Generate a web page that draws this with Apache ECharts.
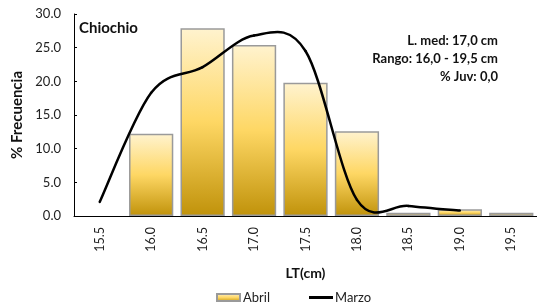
<!DOCTYPE html>
<html>
<head>
<meta charset="utf-8">
<script src="https://cdn.jsdelivr.net/npm/echarts@6/dist/echarts.min.js"></script>
<style>
  html, body { margin: 0; padding: 0; background: #fff; }
  #chart { width: 537px; height: 308px; }
</style>
</head>
<body>
<div id="chart"></div>
<script>
// tallas (LT cm)
var tallas = ['15.5', '16.0', '16.5', '17.0', '17.5', '18.0', '18.5', '19.0', '19.5']
// % frecuencia
var abril = [0, 12.2, 27.9, 25.4, 19.8, 12.6, 0.5, 1.0, 0.5]
var marzo = [2.1, 18.3, 22.1, 26.8, 24.5, 2.4, 1.5, 0.8]

var notas = ['L. med: 17,0 cm', 'Rango: 16,0 - 19,5 cm', '% Juv: 0,0']

var fuente = 'Lato'
var barColor = new echarts.graphic.LinearGradient(0, 0, 0, 1, [
  {offset: 0, color: '#fff3cf'},
  {offset: 0.5, color: '#fed764'},
  {offset: 1, color: '#c0920a'}
])

// linea suavizada tipo excel (catmull-rom), puntos sacados de los ejes
function curvaMarzo (params, api) {
  var pts = marzo.map(function (v, i) { return api.coord([i, v]) })
  var n = pts.length
  var segs = []
  for (var i = 0; i < n - 1; i++) {
    var p0 = pts[Math.max(i - 1, 0)]
    var p1 = pts[i]
    var p2 = pts[i + 1]
    var p3 = pts[Math.min(i + 2, n - 1)]
    segs.push({
      type: 'bezierCurve',
      shape: {
        x1: p1[0], y1: p1[1],
        cpx1: p1[0] + (p2[0] - p0[0]) / 6, cpy1: p1[1] + (p2[1] - p0[1]) / 6,
        cpx2: p2[0] - (p3[0] - p1[0]) / 6, cpy2: p2[1] - (p3[1] - p1[1]) / 6,
        x2: p2[0], y2: p2[1]
      },
      style: {stroke: '#000', lineWidth: 2.5, fill: null, lineCap: 'round'}
    })
  }
  return {type: 'group', children: segs}
}

var myChart = echarts.init(document.getElementById('chart'))
var option = {
  animation: false,
  textStyle: {fontFamily: fuente},
  title: {
    text: 'Chiochio',
    left: 79,
    top: 21,
    padding: 0,
    textStyle: {fontFamily: fuente, fontSize: 15, fontWeight: 'bold', color: '#111'}
  },
  graphic: notas.map(function (t, i) {
    return {
      type: 'text',
      right: 39,
      top: 34 + i * 18,
      style: {text: t, fontFamily: fuente, fontSize: 13, fontWeight: 'bold', fill: '#111', textAlign: 'right'}
    }
  }),
  legend: [{
    left: 216,
    top: 291,
    padding: 0,
    itemWidth: 23,
    itemHeight: 7,
    itemGap: 0,
    textStyle: {fontFamily: fuente, fontSize: 13, color: '#222', padding: [0, 0, 0, -2]},
    data: [{name: 'Abril', icon: 'rect'}]
  }, {
    left: 309,
    top: 291,
    padding: 0,
    itemWidth: 24,
    itemHeight: 3,
    itemGap: 0,
    textStyle: {fontFamily: fuente, fontSize: 13, color: '#222', padding: [0, 0, 0, -3]},
    data: [{name: 'Marzo', icon: 'rect', itemStyle: {color: '#000', borderWidth: 0}}]
  }],
  grid: {
    left: 74,
    right: -7,
    top: 14,
    bottom: 92
  },
  xAxis: [{
    type: 'category',
    data: tallas,
    name: 'LT(cm)',
    nameLocation: 'middle',
    nameGap: 50,
    nameTextStyle: {fontFamily: fuente, fontSize: 14, fontWeight: 'bold', color: '#111'},
    axisLine: {lineStyle: {color: '#000', width: 1}},
    axisTick: {inside: true, length: 4, lineStyle: {color: '#000'}},
    axisLabel: {rotate: 90, fontFamily: fuente, fontSize: 12.5, color: '#222', margin: 11}
  }, {
    type: 'category',
    data: tallas,
    position: 'bottom',
    axisLine: {show: false},
    axisTick: {alignWithLabel: true, length: 4, lineStyle: {color: '#000'}},
    axisLabel: {show: false}
  }],
  yAxis: {
    type: 'value',
    min: 0,
    max: 30,
    interval: 5,
    name: '% Frecuencia',
    nameLocation: 'middle',
    nameGap: 48,
    nameTextStyle: {fontFamily: fuente, fontSize: 15, fontWeight: 'bold', color: '#111'},
    splitLine: {show: false},
    axisLine: {show: true, lineStyle: {color: '#000', width: 1}},
    axisTick: {show: true, inside: true, length: 3, lineStyle: {color: '#000'}},
    axisLabel: {
      fontFamily: fuente, fontSize: 13, color: '#222', margin: 13,
      formatter: function (v) { return v.toFixed(1) }
    }
  },
  series: [{
    name: 'Abril',
    type: 'bar',
    z: 2,
    data: abril.map(function (v) {
      return v === 0 ? {value: v, itemStyle: {borderWidth: 0}} : v
    }),
    barCategoryGap: '14%',
    itemStyle: {color: barColor, borderColor: '#9a9a9a', borderWidth: 1.5}
  }, {
    name: 'Marzo',
    type: 'custom',
    xAxisIndex: 1,
    z: 5,
    clip: false,
    data: [0],
    renderItem: curvaMarzo,
    itemStyle: {color: '#000'}
  }]
}
myChart.setOption(option)
</script>
</body>
</html>
